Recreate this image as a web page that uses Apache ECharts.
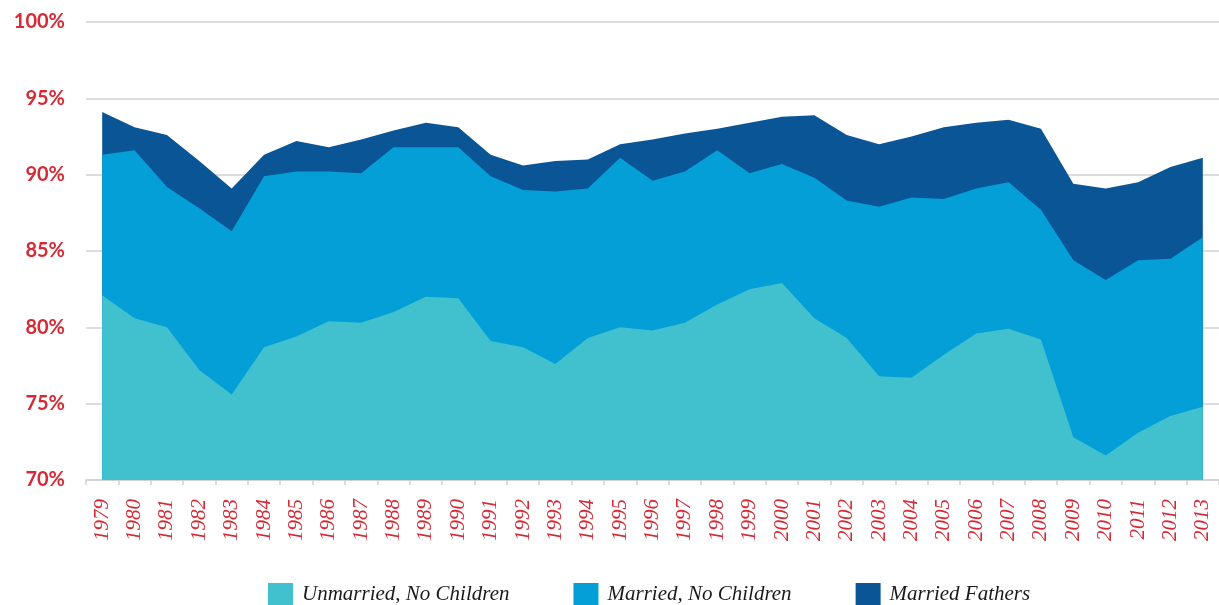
<!DOCTYPE html>
<html>
<head>
<meta charset="utf-8">
<script src="https://cdn.jsdelivr.net/npm/echarts@6/dist/echarts.min.js"></script>
<style>
  html, body { margin: 0; padding: 0; background: #fff; }
  #chart { width: 1219px; height: 605px; }
</style>
</head>
<body>
<div id="chart"></div>
<script>
// Years on the x axis
const years = [
  '1979', '1980', '1981', '1982', '1983', '1984', '1985', '1986', '1987', '1988',
  '1989', '1990', '1991', '1992', '1993', '1994', '1995', '1996', '1997', '1998',
  '1999', '2000', '2001', '2002', '2003', '2004', '2005', '2006', '2007', '2008',
  '2009', '2010', '2011', '2012', '2013'
];

// Values (percent)
const unmarriedNoChildren = [
  82.1, 80.6, 80.0, 77.2, 75.6, 78.7, 79.4, 80.4, 80.3, 81.0,
  82.0, 81.9, 79.1, 78.7, 77.6, 79.3, 80.0, 79.8, 80.3, 81.5,
  82.5, 82.9, 80.6, 79.3, 76.8, 76.7, 78.2, 79.6, 79.9, 79.2,
  72.8, 71.6, 73.1, 74.2, 74.8
];
const marriedNoChildren = [
  91.3, 91.6, 89.2, 87.8, 86.3, 89.9, 90.2, 90.2, 90.1, 91.8,
  91.8, 91.8, 89.9, 89.0, 88.9, 89.1, 91.1, 89.6, 90.2, 91.6,
  90.1, 90.7, 89.8, 88.3, 87.9, 88.5, 88.4, 89.1, 89.5, 87.7,
  84.4, 83.1, 84.4, 84.5, 85.9
];
const marriedFathers = [
  94.1, 93.1, 92.6, 90.9, 89.1, 91.3, 92.2, 91.8, 92.3, 92.9,
  93.4, 93.1, 91.3, 90.6, 90.9, 91.0, 92.0, 92.3, 92.7, 93.0,
  93.4, 93.8, 93.9, 92.6, 92.0, 92.5, 93.1, 93.4, 93.6, 93.0,
  89.4, 89.1, 89.5, 90.5, 91.1
];

const RED = '#d52b36';
const COLORS = {
  unmarried: '#41c0ce',
  married: '#049fd7',
  fathers: '#0a5596'
};

const chart = echarts.init(document.getElementById('chart'));

function areaSeries(name, data, color) {
  return {
    name,
    type: 'line',
    data,
    symbol: 'none',
    lineStyle: { width: 0, color },
    itemStyle: { color },
    areaStyle: { color, opacity: 1, origin: 'start' },
    emphasis: { disabled: true },
    animation: false
  };
}

chart.setOption({
  animation: false,
  grid: { left: 86, right: -3, top: 22, bottom: 125 },
  legend: {
    top: 578,
    left: 263,
    itemWidth: 25,
    itemHeight: 23,
    itemGap: 64,
    icon: 'rect',
    data: ['Unmarried, No Children', 'Married, No Children', 'Married Fathers'],
    textStyle: {
      fontFamily: 'Liberation Serif',
      fontStyle: 'italic',
      fontSize: 21,
      color: '#1a1a1a',
      padding: [0, 0, 0, 4]
    }
  },
  xAxis: {
    type: 'category',
    data: years,
    boundaryGap: true,
    axisLine: { lineStyle: { color: '#cfcfcf', width: 1.5 } },
    axisTick: { show: true, length: 5, lineStyle: { color: '#cfcfcf', width: 1.5 } },
    axisLabel: {
      interval: 0,
      rotate: 90,
      margin: 19,
      color: RED,
      fontFamily: 'Liberation Serif',
      fontStyle: 'italic',
      fontSize: 21
    },
    splitLine: { show: false }
  },
  yAxis: {
    type: 'value',
    min: 70,
    max: 100,
    interval: 5,
    axisLine: { show: false },
    axisTick: { show: false },
    axisLabel: {
      margin: 21,
      color: RED,
      fontFamily: 'Lato',
      fontWeight: 'bold',
      fontSize: 20,
      formatter: '{value}%'
    },
    splitLine: { lineStyle: { color: '#dcdcdc', width: 2 } }
  },
  series: [
    areaSeries('Married Fathers', marriedFathers, COLORS.fathers),
    areaSeries('Married, No Children', marriedNoChildren, COLORS.married),
    areaSeries('Unmarried, No Children', unmarriedNoChildren, COLORS.unmarried)
  ]
});
</script>
</body>
</html>
